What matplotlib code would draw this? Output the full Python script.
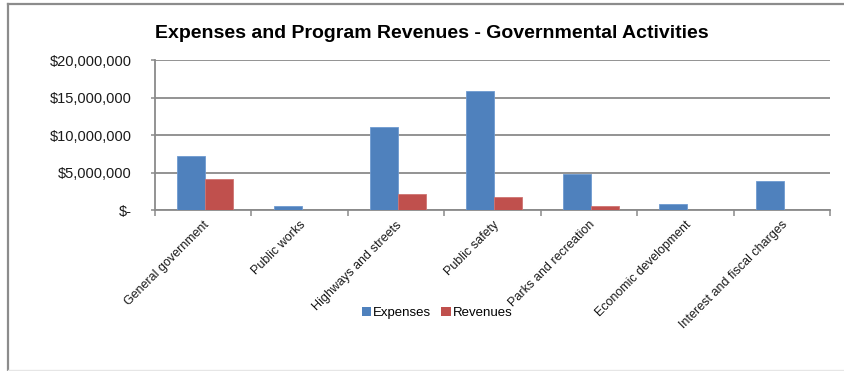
import matplotlib
matplotlib.use("Agg")
import matplotlib.pyplot as plt
from matplotlib.lines import Line2D
from matplotlib.patches import Patch
import numpy as np

plt.rcParams['font.family'] = ['Liberation Sans', 'DejaVu Sans']

categories = ["General government", "Public works", "Highways and streets", "Public safety",
              "Parks and recreation", "Economic development", "Interest and fiscal charges"]
expenses = [7240000, 570000, 11030000, 15870000, 4840000, 800000, 3870000]
revenues = [4130000, 100000, 2220000, 1730000, 570000, 0, 0]
y_ticks = [0, 5000000, 10000000, 15000000, 20000000]
y_tick_labels = ["$-", "$5,000,000", "$10,000,000", "$15,000,000", "$20,000,000"]
series_names = ["Expenses", "Revenues"]
title = "Expenses and Program Revenues - Governmental Activities"

BLUE = "#4F81BD"
RED = "#C0504D"
GRID = "#8a8a8a"

W, H = 845, 371
fig = plt.figure(figsize=(W / 100, H / 100), dpi=100)
fig.patch.set_facecolor("white")

# outer chart border (top & left darker, bottom faint)
fig.add_artist(Line2D([8 / W, 1.0], [1 - 4 / H, 1 - 4 / H], color="#8c8c8c", lw=1.6, transform=fig.transFigure))
fig.add_artist(Line2D([8 / W, 8 / W], [1 - 4 / H, 0], color="#8c8c8c", lw=1.6, transform=fig.transFigure))
fig.add_artist(Line2D([8 / W, 1.0], [1 - 369.5 / H, 1 - 369.5 / H], color="#e6e6e6", lw=1.0, transform=fig.transFigure))

left, right = 155 / W, 830 / W
bottom, top = 1 - 210.5 / H, 1 - 60 / H
ax = fig.add_axes([left, bottom, right - left, top - bottom])

x = np.arange(len(categories))
bw = 0.29
ax.bar(x - bw / 2 + 0.02, expenses, width=bw, color=BLUE, edgecolor="#6f9ad0", linewidth=0.6, zorder=3)
ax.bar(x + bw / 2 + 0.02, revenues, width=bw, color=RED, edgecolor="#cf7472", linewidth=0.6, zorder=3)

ax.set_xlim(-0.5, len(categories) - 0.5)
ax.set_ylim(0, 20000000)

ax.set_yticks(y_ticks)
ax.set_yticklabels(y_tick_labels, fontsize=10.5, color="#1a1a1a")
ax.tick_params(axis='y', length=3, width=1.1, color=GRID, pad=14)
for lab in ax.get_yticklabels():
    lab.set_horizontalalignment("right")

ax.yaxis.grid(True, color=GRID, linewidth=1.3, zorder=0)
ax.set_axisbelow(True)

ax.set_xticks(x)
ax.set_xticklabels(categories, rotation=45, ha="right", rotation_mode="anchor", fontsize=9, color="#1a1a1a")
ax.tick_params(axis='x', which='major', length=0, pad=6)
ax.set_xticks(np.arange(-0.5, len(categories)), minor=True)
ax.tick_params(axis='x', which='minor', length=4, width=1.1, color=GRID)

for s in ["top", "right"]:
    ax.spines[s].set_visible(False)
ax.spines["left"].set_color(GRID)
ax.spines["left"].set_linewidth(1.3)
ax.spines["bottom"].set_color(GRID)
ax.spines["bottom"].set_linewidth(1.3)
ax.set_facecolor("white")

handles = [Patch(facecolor=BLUE, edgecolor="none"), Patch(facecolor=RED, edgecolor="none")]
fig.legend(handles, series_names, loc="center", bbox_to_anchor=(437 / W, 1 - 313 / H),
           ncol=2, frameon=False, fontsize=9.5, handlelength=0.7, handleheight=0.7,
           handletextpad=0.15, columnspacing=0.8)

fig.text(432 / W, 1 - 33 / H, title, ha="center", va="center", fontsize=14, fontweight="bold", color="black")

fig.savefig("out.png", dpi=100, facecolor="white")
